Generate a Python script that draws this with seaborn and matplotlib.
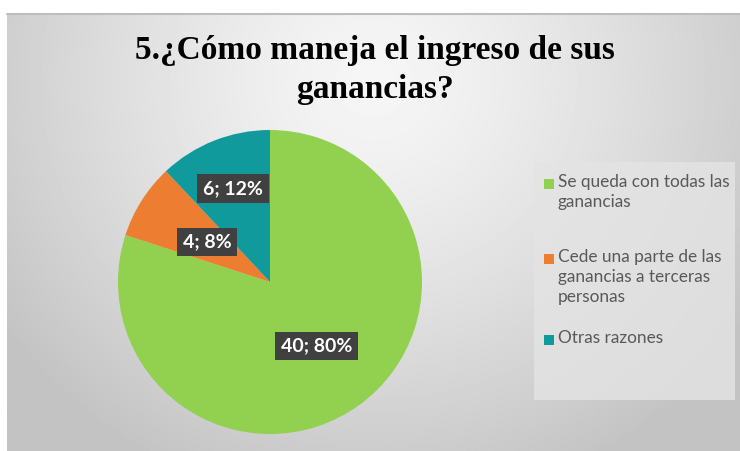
import numpy as np
import matplotlib.pyplot as plt
import seaborn as sns
from matplotlib.patches import Rectangle

sns.set_style('white')

# data
categories = ['Se queda con todas las\nganancias',
              'Cede una parte de las\nganancias a terceras\npersonas',
              'Otras razones']
counts = [40, 4, 6]
colors = ['#92D050', '#ED7D31', '#119A9C']
title = '5.¿Cómo maneja el ingreso de sus\nganancias?'

# label distance from center, per slice (Excel "best fit")
label_radius = [0.52, 0.49, 0.66]
# legend entry top lines (pixels from top)
legend_rows = [184, 259, 340]

total = sum(counts)
labels = [f'{c}; {round(100 * c / total)}%' for c in counts]

W, H = 740, 451
fig = plt.figure(figsize=(W / 100, H / 100), dpi=100)
fig.patch.set_facecolor('white')

# gray gradient panel
bg = fig.add_axes([7 / W, 0, 1 - 7 / W, 1 - 14 / H])
yy, xx = np.mgrid[0:1:300j, 0:1:500j]
d = np.sqrt(((xx - 0.5) / 0.62) ** 2 + ((yy - 0.15) / 1.0) ** 2)
shade = 0.965 - 0.2 * np.clip(d, 0, 1) ** 1.3
bg.imshow(shade, cmap='gray', vmin=0, vmax=1, aspect='auto',
          extent=[0, 1, 0, 1], origin='upper')
bg.axis('off')
fig.add_artist(plt.Line2D([7 / W, 1], [1 - 14 / H, 1 - 14 / H],
                          color='#bdbdbd', lw=1.5, transform=fig.transFigure))

# pie
cx, cy, r = 270, 282, 152
ax = fig.add_axes([(cx - r) / W, (H - cy - r) / H, 2 * r / W, 2 * r / H])
wedges, _ = ax.pie(counts, colors=colors, startangle=90, counterclock=False,
                   wedgeprops=dict(linewidth=0))
ax.set_xlim(-1, 1)
ax.set_ylim(-1, 1)
ax.axis('off')

for w, lab, rr in zip(wedges, labels, label_radius):
    th = np.deg2rad((w.theta1 + w.theta2) / 2)
    ax.text(rr * np.cos(th), rr * np.sin(th), lab, ha='center', va='center',
            color='white', fontsize=14, fontweight='bold', family='Lato',
            bbox=dict(boxstyle='square,pad=0.3', fc='#404040', ec='none'))

# title
fig.text(375 / W, 1 - 70 / H, title, ha='center', va='center',
         fontsize=24, fontweight='bold', family='Liberation Serif',
         linespacing=1.3, color='black')

# legend
fig.add_artist(Rectangle((534 / W, 1 - 400 / H), 201 / W, 238 / H,
                         transform=fig.transFigure, fc='#e4e4e4', ec='none',
                         alpha=0.8))
for cat, col, row in zip(categories, colors, legend_rows):
    fig.add_artist(Rectangle((544 / W, 1 - (row + 5) / H), 10 / W, 10 / H,
                             transform=fig.transFigure, fc=col, ec='none'))
    fig.text(558 / W, 1 - (row - 10) / H, cat, ha='left', va='top',
             fontsize=12.4, family='Lato', color='#595959', linespacing=1.3)

fig.savefig('out.png', dpi=100)
